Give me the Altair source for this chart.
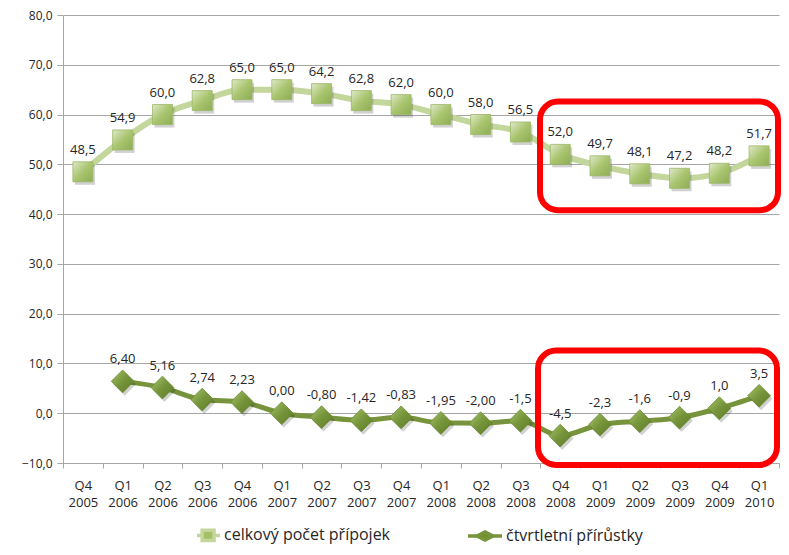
import altair as alt
import pandas as pd

quarters = ["Q4 2005", "Q1 2006", "Q2 2006", "Q3 2006", "Q4 2006", "Q1 2007", "Q2 2007",
            "Q3 2007", "Q4 2007", "Q1 2008", "Q2 2008", "Q3 2008", "Q4 2008", "Q1 2009",
            "Q2 2009", "Q3 2009", "Q4 2009", "Q1 2010"]
celkovy = [48.5, 54.9, 60.0, 62.8, 65.0, 65.0, 64.2, 62.8, 62.0, 60.0, 58.0, 56.5,
           52.0, 49.7, 48.1, 47.2, 48.2, 51.7]
celkovy_labels = ["48,5", "54,9", "60,0", "62,8", "65,0", "65,0", "64,2", "62,8", "62,0",
                  "60,0", "58,0", "56,5", "52,0", "49,7", "48,1", "47,2", "48,2", "51,7"]
prirustky = [None, 6.40, 5.16, 2.74, 2.23, 0.00, -0.80, -1.42, -0.83, -1.95, -2.00, -1.5,
             -4.5, -2.3, -1.6, -0.9, 1.0, 3.5]
prirustky_labels = ["", "6,40", "5,16", "2,74", "2,23", "0,00", "-0,80", "-1,42", "-0,83",
                    "-1,95", "-2,00", "-1,5", "-4,5", "-2,3", "-1,6", "-0,9", "1,0", "3,5"]
series_names = ["celkový počet přípojek", "čtvrtletní přírůstky"]
y_ticks = [-10, 0, 10, 20, 30, 40, 50, 60, 70, 80]

# highlight boxes (value ranges on y axis)
box_y0 = [62.6, 12.6]
box_y1 = [40.8, -10.4]
box_x0 = [477, 475]
box_x1 = [715, 714]

df1 = pd.DataFrame({"q": quarters, "v": celkovy, "lab": celkovy_labels})
df2 = pd.DataFrame({"q": quarters, "v": prirustky, "lab": prirustky_labels}).dropna()
df_leg = pd.DataFrame({"q": quarters[:2], "v": [0, 0], "s": series_names})

FONT = "Open Sans"
TXT = "#262626"
GRID = "#a6a6a6"

x_scale = alt.Scale(type="band", domain=quarters, paddingInner=0, paddingOuter=0)
x_axis = alt.Axis(title=None, labelAngle=0, labelExpr="split(datum.label, ' ')",
                  tickBand="extent", grid=False, domainColor=GRID, tickColor=GRID,
                  tickSize=5, labelPadding=11, labelFontSize=13, labelLineHeight=17,
                  labelFont=FONT, labelColor=TXT, labelBaseline="top")
y_scale = alt.Scale(domain=[-10, 80], nice=False, zero=False)
y_axis = alt.Axis(title=None, values=y_ticks,
                  labelExpr="replace(format(datum.value, '.1f'), '.', ',')",
                  grid=True, gridColor=GRID, domainColor=GRID, tickColor=GRID,
                  tickSize=6, labelPadding=5, labelFontSize=12, labelFont=FONT,
                  labelColor=TXT)
xenc = alt.X("q:N", scale=x_scale, axis=x_axis)
yenc = alt.Y("v:Q", scale=y_scale, axis=y_axis)

sq_grad = alt.LinearGradient(gradient="linear", x1=0, y1=0, x2=1, y2=1,
                             stops=[alt.GradientStop(color="#dfe9c9", offset=0),
                                    alt.GradientStop(color="#a9c56f", offset=0.5),
                                    alt.GradientStop(color="#8eac55", offset=1)])
di_grad = alt.LinearGradient(gradient="linear", x1=0, y1=0, x2=1, y2=1,
                             stops=[alt.GradientStop(color="#a7c46a", offset=0),
                                    alt.GradientStop(color="#76953a", offset=0.5),
                                    alt.GradientStop(color="#5c7a28", offset=1)])

base1 = alt.Chart(df1).encode(x=xenc, y=yenc)
line1 = base1.mark_line(color="#c3d69b", strokeWidth=6, interpolate="monotone")
shadow1 = base1.mark_point(shape="square", size=400, filled=True, color="#000000", opacity=0.18,
                           xOffset=2, yOffset=3)
pts1 = base1.mark_point(shape="square", size=400, filled=True, fill=sq_grad, stroke="#9bb866",
                        strokeWidth=0.8, opacity=1)
txt1 = base1.mark_text(dy=-22, fontSize=13, font=FONT, color=TXT).encode(text="lab:N")

base2 = alt.Chart(df2).encode(x=xenc, y=yenc)
line2 = base2.mark_line(color="#77933c", strokeWidth=5, interpolate="monotone")
shadow2 = base2.mark_point(shape="diamond", size=520, filled=True, color="#000000", opacity=0.18,
                           xOffset=2, yOffset=3)
pts2 = base2.mark_point(shape="diamond", size=520, filled=True, fill=di_grad, stroke="#6b8a30",
                        strokeWidth=0.8, opacity=1)
txt2 = base2.mark_text(dy=-22, fontSize=13, font=FONT, color=TXT).encode(text="lab:N")

df_box = pd.DataFrame({"y0": box_y0, "y1": box_y1, "x0": box_x0, "x1": box_x1})
boxes = alt.Chart(df_box).mark_rect(fillOpacity=0, stroke="#ff0000", strokeWidth=6,
                                    cornerRadius=18).encode(
    x=alt.X("x0:Q", scale=None), x2="x1:Q",
    y=alt.Y("y0:Q", scale=y_scale, axis=y_axis),
    y2="y1:Q")

path1 = "M-0.35,0H-0.05M0.65,0H1M-0.05,-0.3H0.65V0.3H-0.05Z"
path2 = "M-1,0H-0.47M0.47,0H1M-0.47,0L0,-0.24L0.47,0L0,0.24Z"
leg = alt.Legend(title=None, orient="none", legendX=121, legendY=501, direction="horizontal",
                 symbolSize=1156, symbolStrokeWidth=3.5, symbolOpacity=1, labelFontSize=16,
                 labelFont=FONT, labelColor=TXT, labelOffset=2, columnPadding=70, labelLimit=0)
legend_layer = alt.Chart(df_leg).mark_point(filled=True, opacity=1).encode(
    x=xenc, y=yenc,
    fill=alt.Fill("s:N", scale=alt.Scale(domain=series_names, range=["#a3c067", "#70902f"]), legend=leg),
    stroke=alt.Stroke("s:N", scale=alt.Scale(domain=series_names, range=["#c3d69b", "#77933c"]), legend=leg),
    shape=alt.Shape("s:N", scale=alt.Scale(domain=series_names, range=[path1, path2]), legend=leg),
).transform_filter("false")

chart = alt.layer(line1, shadow1, pts1, txt1, line2, shadow2, pts2, txt2, boxes, legend_layer).properties(
    width=716, height=448,
    autosize=alt.AutoSizeParams(type="none"),
    padding={"left": 55, "top": 7, "right": 2, "bottom": 84},
).configure_view(stroke=None)

chart.save("out.html", embed_options={"renderer": "svg", "actions": False})
